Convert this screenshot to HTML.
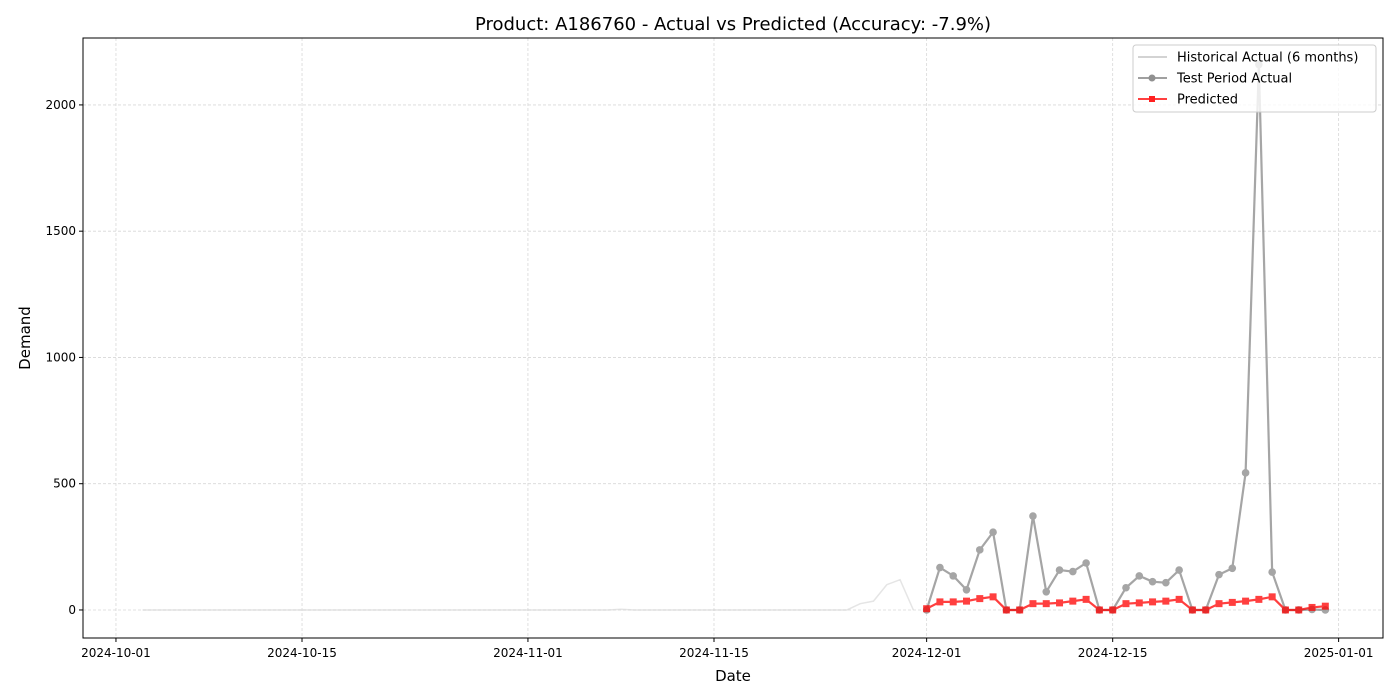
<!DOCTYPE html>
<html><head><meta charset="utf-8"><style>
body{margin:0;background:#fff;font-family:"DejaVu Sans","Liberation Sans",sans-serif;}
svg{display:block}
</style></head><body>
<svg id="chart" width="1400" height="700" xmlns="http://www.w3.org/2000/svg"></svg>
<script>
const histStart = '2024-10-03';
const histValues = [0,0,0,0,0,0,0,0,0,0,0,0,0,0,0,0,0,0,0,0,0,0,0,0,0,0,0,0,0,
0,0,0,0,0,0,0,3,0,0,0,0,0,0,0,0,0,0,0,0,0,0,0,0,0,25,35,100,120,0];
const testStart = '2024-12-01';
const testActual = [0,168,135,80,238,308,0,0,372,72,158,152,186,0,0,88,135,112,108,158,0,0,140,165,543,2160,150,0,0,2,0];
const predicted = [5,32,32,35,45,52,0,0,25,25,28,35,42,0,0,25,28,32,35,42,0,0,25,30,35,42,52,0,0,10,15];
const yTicks = [0,500,1000,1500,2000];
const xTickLabels = ['2024-10-01','2024-10-15','2024-11-01','2024-11-15','2024-12-01','2024-12-15','2025-01-01'];

const NS='http://www.w3.org/2000/svg';
const svg=document.getElementById('chart');
const L=83,R=1383,T=38,B=638;
const day0=Date.UTC(2024,9,1);
function dnum(s){const p=s.split('-');return (Date.UTC(+p[0],+p[1]-1,+p[2])-day0)/86400000;}
const xMin=-2.48, xMax=95.34, yMin=-111, yMax=2265;
function X(d){return L+(d-xMin)/(xMax-xMin)*(R-L);}
function Y(v){return B-(v-yMin)/(yMax-yMin)*(B-T);}
function mk(tag,attrs,parent){const e=document.createElementNS(NS,tag);for(const k in attrs)e.setAttribute(k,attrs[k]);(parent||svg).appendChild(e);return e;}

const grid=mk('g',{});


yTicks.forEach(v=>{mk('line',{x1:L,x2:R,y1:Y(v),y2:Y(v),stroke:'#d8d8d8','stroke-width':0.8,'stroke-dasharray':'3,2'},grid);});
xTickLabels.forEach(s=>{const x=X(dnum(s));mk('line',{x1:x,x2:x,y1:T,y2:B,stroke:'#d8d8d8','stroke-width':0.8,'stroke-dasharray':'3,2'},grid);});

const yax=mk('g',{});


yTicks.forEach(v=>{const y=Y(v);mk('line',{x1:L-4,x2:L,y1:y,y2:y,stroke:'#000'},yax);
const t=mk('text',{x:L-7,y:y+4,'text-anchor':'end','font-size':12},yax);t.textContent=v;});
const xax=mk('g',{});


xTickLabels.forEach(s=>{const x=X(dnum(s));mk('line',{x1:x,x2:x,y1:B,y2:B+4,stroke:'#000'},xax);
const t=mk('text',{x:x,y:B+19,'text-anchor':'middle','font-size':12},xax);t.textContent=s;});

function pts(start,vals){const d0=dnum(start);return vals.map((v,i)=>[X(d0+i),Y(v)]);}
const hp=pts(histStart,histValues);
const hl=mk('polyline',{points:hp.map(p=>p.join(',')).join(' '),fill:'none',stroke:'#d3d3d3','stroke-opacity':0.6,'stroke-width':1.5});


const tp=pts(testStart,testActual);
const tg=mk('g',{opacity:0.7});


mk('polyline',{points:tp.map(p=>p.join(',')).join(' '),fill:'none',stroke:'#808080','stroke-width':2.2},tg);
tp.forEach(p=>{const c=mk('circle',{cx:p[0],cy:p[1],r:3.8,fill:'#808080'},tg);

});
const pp=pts(testStart,predicted);
const pg=mk('g',{opacity:0.75});


mk('polyline',{points:pp.map(p=>p.join(',')).join(' '),fill:'none',stroke:'#ff0000','stroke-width':2.2},pg);
pp.forEach(p=>{const r=mk('rect',{x:p[0]-3.5,y:p[1]-3.5,width:7,height:7,fill:'#ff0000'},pg);

});

mk('rect',{x:L,y:T,width:R-L,height:B-T,fill:'none',stroke:'#000','stroke-width':1});

const tt=mk('text',{x:(L+R)/2,y:30,'text-anchor':'middle','font-size':18});tt.textContent='Product: A186760 - Actual vs Predicted (Accuracy: -7.9%)';

const xt=mk('text',{x:(L+R)/2,y:681,'text-anchor':'middle','font-size':15});xt.textContent='Date';

const yt=mk('text',{x:30,y:(T+B)/2,'text-anchor':'middle','font-size':15,transform:'rotate(-90 30 '+((T+B)/2)+')'});yt.textContent='Demand';


const lg=mk('g',{});


mk('rect',{x:1133,y:45,width:243,height:67,rx:3,fill:'#fff','fill-opacity':0.8,stroke:'#ccc'},lg);
const items=[['Historical Actual (6 months)','#d3d3d3',null],['Test Period Actual','#a0a0a0','c'],['Predicted','#ff4040','s']];
items.forEach((it,i)=>{const y=57+i*21;
mk('line',{x1:1138,x2:1167,y1:y,y2:y,stroke:it[1],'stroke-width':2},lg);
if(it[2]==='c')mk('circle',{cx:1152,cy:y,r:3.5,fill:'#909090'},lg);
if(it[2]==='s')mk('rect',{x:1149,y:y-3,width:6,height:6,fill:'#ff2020'},lg);
const t=mk('text',{x:1177,y:y+4.5,'font-size':13},lg);t.textContent=it[0];
});
</script>
</body></html>
